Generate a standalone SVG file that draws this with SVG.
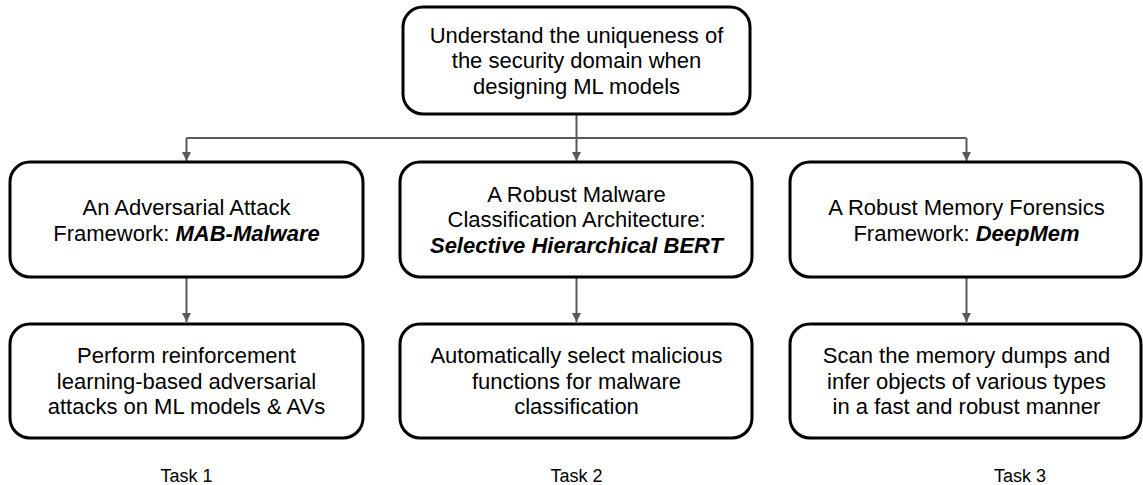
<svg xmlns="http://www.w3.org/2000/svg" width="1143" height="485" viewBox="0 0 1143 485">
<style>
.box{fill:#fff;stroke:#000;stroke-width:3}
.t{font-family:"Liberation Sans",Arial,sans-serif;font-size:22px;fill:#000;text-anchor:middle}
.bi{font-weight:bold;font-style:italic}
.task{font-family:"Liberation Sans",Arial,sans-serif;font-size:18px;fill:#000;text-anchor:middle}
.c{fill:none;stroke:#595959;stroke-width:2}
</style>
<defs>
<marker id="ah" viewBox="0 0 10 10" refX="10" refY="5" markerWidth="4.5" markerHeight="4.5" markerUnits="strokeWidth" orient="auto">
<path d="M0,0 L10,5 L0,10 Z" fill="#595959"/>
</marker>
</defs>
<rect width="1143" height="485" fill="#fff"/>
<g id="connectors">
<path class="c" d="M576.5,115 V138"/>
<path class="c" d="M186.5,138 H966.5"/>
<path class="c" d="M186.5,138 V161" marker-end="url(#ah)"/>
<path class="c" d="M576.5,138 V161" marker-end="url(#ah)"/>
<path class="c" d="M966.5,138 V161" marker-end="url(#ah)"/>
<path class="c" d="M186.5,278 V322" marker-end="url(#ah)"/>
<path class="c" d="M576.5,278 V322" marker-end="url(#ah)"/>
<path class="c" d="M966.5,278 V322" marker-end="url(#ah)"/>
</g>
<g id="root">
<rect class="box" x="403" y="7" width="347" height="107" rx="20"/>
<text class="t" x="576.5" y="42.5">Understand the uniqueness of</text>
<text class="t" x="576.5" y="68">the security domain when</text>
<text class="t" x="576.5" y="93.5">designing ML models</text>
</g>
<g id="mab">
<rect class="box" x="10" y="162" width="353" height="115" rx="20"/>
<text class="t" x="186.5" y="214.5">An Adversarial Attack</text>
<text class="t" x="186.5" y="240.5">Framework: <tspan class="bi">MAB-Malware</tspan></text>
</g>
<g id="bert">
<rect class="box" x="400" y="162" width="352" height="115" rx="20"/>
<text class="t" x="576.5" y="201.5">A Robust Malware</text>
<text class="t" x="576.5" y="227">Classification Architecture:</text>
<text class="t bi" x="576.5" y="252.5">Selective Hierarchical BERT</text>
</g>
<g id="deepmem">
<rect class="box" x="790" y="162" width="351" height="115" rx="20"/>
<text class="t" x="966.5" y="214.5">A Robust Memory Forensics</text>
<text class="t" x="966.5" y="240.5">Framework: <tspan class="bi">DeepMem</tspan></text>
</g>
<g id="task1box">
<rect class="box" x="10" y="324" width="353" height="114" rx="20"/>
<text class="t" x="186.5" y="363">Perform reinforcement</text>
<text class="t" x="186.5" y="388.5">learning-based adversarial</text>
<text class="t" x="186.5" y="414">attacks on ML models &amp; AVs</text>
</g>
<g id="task2box">
<rect class="box" x="400" y="324" width="352" height="114" rx="20"/>
<text class="t" x="576.5" y="363">Automatically select malicious</text>
<text class="t" x="576.5" y="388.5">functions for malware</text>
<text class="t" x="576.5" y="414">classification</text>
</g>
<g id="task3box">
<rect class="box" x="790" y="324" width="351" height="114" rx="20"/>
<text class="t" x="966.5" y="363">Scan the memory dumps and</text>
<text class="t" x="966.5" y="388.5">infer objects of various types</text>
<text class="t" x="966.5" y="414">in a fast and robust manner</text>
</g>
<g id="labels">
<text class="task" x="186.5" y="482">Task 1</text>
<text class="task" x="576.5" y="482">Task 2</text>
<text class="task" x="1020" y="482">Task 3</text>
</g>
</svg>
